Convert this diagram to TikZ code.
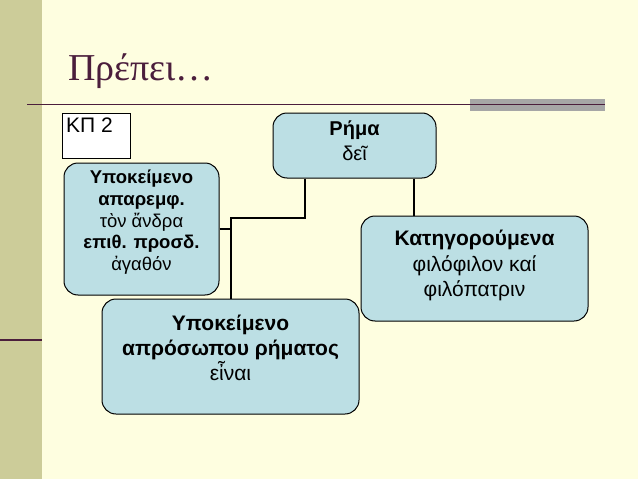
\documentclass[tikz,border=0pt]{standalone}
\usepackage{fontspec}
\setmainfont{Liberation Sans}
\newfontfamily\titlefont{Liberation Serif}
\definecolor{bg}{HTML}{FEFEE0}
\definecolor{olive}{HTML}{CCCC99}
\definecolor{boxc}{HTML}{BCDFE4}
\definecolor{titlec}{HTML}{4B1E3C}
\tikzset{box/.style={draw=black,line width=1pt,fill=boxc,rounded corners=14pt,inner sep=0pt},
txt/.style={align=center,inner sep=0pt,anchor=north}, 
conn/.style={line width=2pt,black}}
\begin{document}
\begin{tikzpicture}[x=1pt,y=-1pt]
\useasboundingbox (0,0) rectangle (638,479);
\fill[bg] (0,0) rectangle (638,479);
\fill[olive] (0,0) rectangle (42,479);
\draw[line width=1.5pt,titlec] (0,340) -- (42,340);
\node[anchor=base west,font=\titlefont\fontsize{38}{42}\selectfont,text=titlec,inner sep=0pt] (title) at (68,80) {Πρέπει…};
\fill[gray!70] (470,99) rectangle (605,111);
\draw[line width=1pt,titlec] (27,104) -- (605,104);
\node[draw=black,fill=white,line width=0.8pt,minimum width=68pt,minimum height=45pt,anchor=north west] (kp) at (62,113) {};
\node[anchor=north west,inner sep=0pt,font=\fontsize{21}{24}\selectfont] (kpt) at (66,118) {ΚΠ 2};
\node[box,minimum width=163pt,minimum height=65pt] (rima) at (354.5,145.5) {};
\node[txt,font=\fontsize{20}{25}\selectfont] (rimat) at (354.5,121) {\textbf{Ρήμα}\\δεῖ};
\node[box,minimum width=155pt,minimum height=132pt] (yp1) at (141.5,229) {};
\node[txt,font=\fontsize{18.5}{21.7}\selectfont] (yp1t) at (141.5,170) {\textbf{Υποκείμενο}\\ \textbf{απαρεμφ.}\\τὸν ἄνδρα\\ \textbf{επιθ. προσδ.}\\ἀγαθόν};
\node[box,minimum width=227pt,minimum height=105pt] (kat) at (474.5,268.5) {};
\node[txt,font=\fontsize{21}{25.5}\selectfont] (katt) at (474.5,230) {\textbf{Κατηγορούμενα}\\φιλόφιλον καί\\φιλόπατριν};
\node[box,minimum width=257pt,minimum height=115pt] (yp2) at (230.5,356.5) {};
\node[txt,font=\fontsize{21}{25}\selectfont] (yp2t) at (230.5,315) {\textbf{Υποκείμενο}\\ \textbf{απρόσωπου ρήματος}\\εἶναι};
\coordinate (j) at (231,218);
\draw[conn] (rima.south -| 305,0) -- (305,218) -- (j) -- (yp2.north -| j);
\draw[conn] (yp1.east |- 0,229) -- (231,229);
\draw[conn] (rima.south -| 414,0) -- (kat.north -| 414,0);
\end{tikzpicture}
\end{document}
